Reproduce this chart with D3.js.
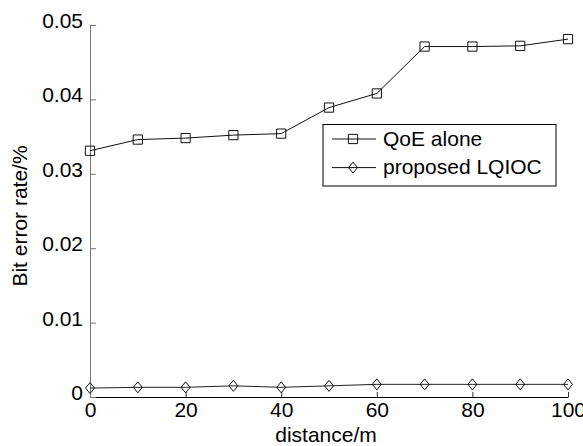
<!DOCTYPE html>
<html>
<head>
<meta charset="utf-8">
<script src="https://cdn.jsdelivr.net/npm/d3@7"></script>
<style>
  body { margin: 0; background: #fff; }
  svg { display: block; font-family: "Liberation Sans", Arial, sans-serif; }
</style>
</head>
<body>
<svg id="chart"></svg>
<script>
// data
const distance = [0, 10, 20, 30, 40, 50, 60, 70, 80, 90, 100];
const qoeAlone = [0.0331, 0.0346, 0.0348, 0.0352, 0.0354, 0.0389, 0.0408, 0.0471, 0.0471, 0.0472, 0.0481];
const proposed = [0.0012, 0.0013, 0.0013, 0.0015, 0.0013, 0.0015, 0.0017, 0.0017, 0.0017, 0.0017, 0.0017];
const xTicks = [0, 20, 40, 60, 80, 100];
const yTicks = [0, 0.01, 0.02, 0.03, 0.04, 0.05];
const seriesNames = ["QoE alone", "proposed LQIOC"];

const W = 583, H = 446;
const margin = { top: 25, right: 15, bottom: 49, left: 90 };
const width = W - margin.left - margin.right;
const height = H - margin.top - margin.bottom;
const fs = 21;

const svg = d3.select("#chart").attr("width", W).attr("height", H);
const g = svg.append("g").attr("transform", `translate(${margin.left},${margin.top})`);

const x = d3.scaleLinear().domain([0, 100]).range([0, width]);
const y = d3.scaleLinear().domain([0, 0.05]).range([height, 0]);

// x axis (ticks inward)
const xAxis = g.append("g")
  .attr("transform", `translate(0,${height})`)
  .call(d3.axisBottom(x).tickValues(xTicks).tickSizeInner(-5).tickSizeOuter(0).tickPadding(5).tickFormat(d3.format("d")));
xAxis.select(".domain").attr("stroke", "#000");
xAxis.selectAll(".tick line").attr("stroke", "#333");
xAxis.selectAll("text").attr("font-size", fs).attr("fill", "#000");

// y axis (ticks inward)
const yAxis = g.append("g")
  .call(d3.axisLeft(y).tickValues(yTicks).tickSizeInner(-6).tickSizeOuter(0).tickPadding(7)
    .tickFormat(d => d === 0 ? "0" : d3.format(".2f")(d)));
yAxis.select(".domain").attr("stroke", "#777");
yAxis.selectAll(".tick line").attr("stroke", "#777");
yAxis.selectAll("text").attr("font-size", fs).attr("fill", "#000").attr("dy", "2.5px");

// lines
const line = vals => d3.line().x((d, i) => x(distance[i])).y(d => y(d))(vals);

g.append("path").attr("d", line(qoeAlone)).attr("fill", "none").attr("stroke", "#111").attr("stroke-width", 1);
g.append("path").attr("d", line(proposed)).attr("fill", "none").attr("stroke", "#222").attr("stroke-width", 1);

const square = d3.symbol().type(d3.symbolSquare).size(85);
const diamond = "M0,-5.5L4.5,0L0,5.5L-4.5,0Z";

g.selectAll(".sq").data(qoeAlone).enter().append("path")
  .attr("class", "sq")
  .attr("d", square)
  .attr("transform", (d, i) => `translate(${x(distance[i])},${y(d)})`)
  .attr("fill", "none").attr("stroke", "#111").attr("stroke-width", 1);

g.selectAll(".dm").data(proposed).enter().append("path")
  .attr("class", "dm")
  .attr("d", diamond)
  .attr("transform", (d, i) => `translate(${x(distance[i])},${y(d)})`)
  .attr("fill", "none").attr("stroke", "#111").attr("stroke-width", 1);

// axis labels
svg.append("text")
  .attr("x", 326).attr("y", 442)
  .attr("text-anchor", "middle").attr("font-size", fs)
  .text("distance/m");

svg.append("text")
  .attr("transform", "translate(26.5,216) rotate(-90)")
  .attr("text-anchor", "middle").attr("font-size", fs)
  .text("Bit error rate/%");

// legend
const legend = svg.append("g").attr("transform", "translate(323,124.5)");
legend.append("rect").attr("width", 233).attr("height", 61.5)
  .attr("fill", "#fff").attr("stroke", "#000").attr("stroke-width", 1);

seriesNames.forEach((name, i) => {
  const base = 21 + i * 28.6;
  const row = legend.append("g").attr("transform", `translate(0,${base})`);
  row.append("line").attr("x1", 9).attr("x2", 53).attr("y1", -6.5).attr("y2", -6.5).attr("stroke", "#111");
  row.append("path")
    .attr("d", i === 0 ? square() : diamond)
    .attr("transform", "translate(30,-6.5)")
    .attr("fill", "none").attr("stroke", "#111");
  row.append("text").attr("x", 60).attr("y", 0)
    .attr("font-size", fs).text(name);
});
</script>
</body>
</html>
